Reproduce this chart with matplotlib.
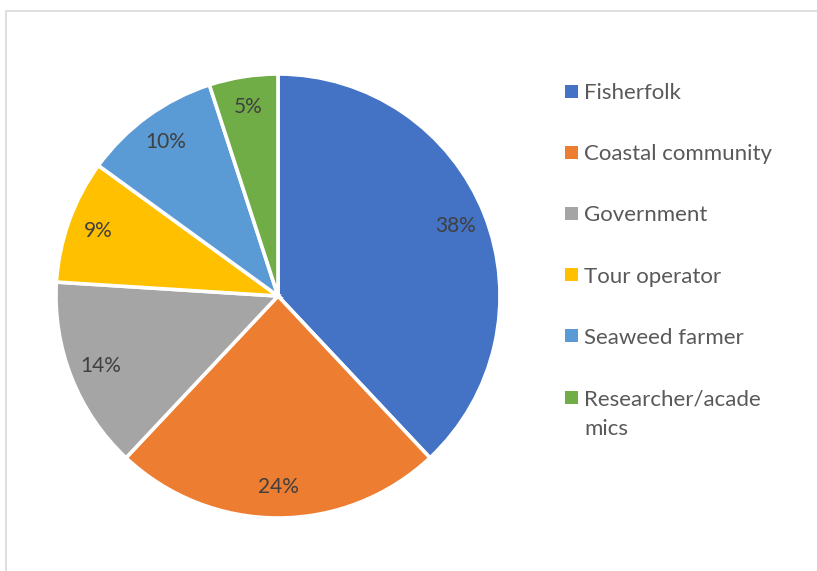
import matplotlib

matplotlib.use("Agg")
import matplotlib.patches as patches
import matplotlib.pyplot as plt

# shares of respondents by stakeholder group
categories = [
    "Fisherfolk",
    "Coastal community",
    "Government",
    "Tour operator",
    "Seaweed farmer",
    "Researcher/acade\nmics",
]
shares = [38, 24, 14, 9, 10, 5]
colors = ["#4472C4", "#ED7D31", "#A5A5A5", "#FFC000", "#5B9BD5", "#70AD47"]

W, H = 817, 571
plt.rcParams["font.family"] = ["Lato", "DejaVu Sans"]

fig = plt.figure(figsize=(W / 100, H / 100), dpi=100)

# light gray chart frame (runs off right and bottom edge)
fig.add_artist(
    patches.Rectangle(
        (6 / W, -0.1), 1.2, (H - 11) / H + 0.1,
        transform=fig.transFigure, fill=False, edgecolor="#D9D9D9", linewidth=1.2,
    )
)

cx, cy, r = 278, 296, 222
ax = fig.add_axes([(cx - r) / W, (H - cy - r) / H, 2 * r / W, 2 * r / H])
wedges, _, autotexts = ax.pie(
    shares,
    colors=colors,
    startangle=90,
    counterclock=False,
    autopct="%d%%",
    pctdistance=0.86,
    wedgeprops=dict(edgecolor="white", linewidth=2.6),
    textprops=dict(color="#404040", fontsize=15),
)
ax.set_xlim(-1, 1)
ax.set_ylim(-1, 1)
ax.set_aspect("equal")

# legend, drawn by hand to match the spacing
y0, step, line_h = 91, 61.2, 30
for i, (name, col) in enumerate(zip(categories, colors)):
    y = y0 + i * step
    fig.add_artist(
        patches.Rectangle(
            (565 / W, (H - y - 6.5) / H), 13 / W, 13 / H,
            transform=fig.transFigure, facecolor=col, edgecolor="none",
        )
    )
    for k, line in enumerate(name.split("\n")):
        fig.text(
            584 / W, (H - y - 8 - k * line_h) / H, line,
            color="#595959", fontsize=16, va="baseline",
        )

fig.savefig("out.png", dpi=100)
